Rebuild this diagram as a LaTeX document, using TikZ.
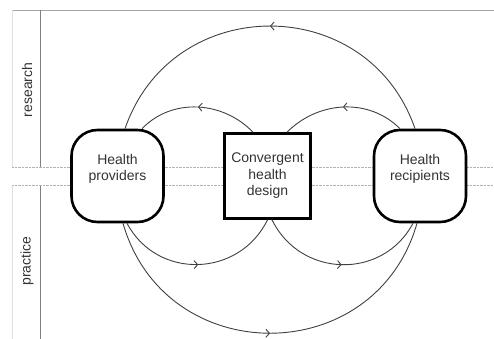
\documentclass[tikz,border=0pt]{standalone}
\usepackage{fontspec}
\setmainfont{Liberation Sans}
\usetikzlibrary{positioning,arrows.meta,decorations.markings}

\begin{document}
\begin{tikzpicture}[x=1pt,y=1pt,
    every node/.style={align=center,text=black!80,font=\fontsize{14}{16.5}\selectfont},
    actor/.style={draw=black,line width=2.6pt,fill=white,rounded corners=26pt,minimum width=92pt,minimum height=92pt,text depth=17pt},
    hub/.style={draw=black,line width=2.6pt,fill=white,minimum width=86pt,minimum height=85pt},
    flow/.style={draw=black!75,line width=0.9pt,postaction={decorate},decoration={markings,mark=at position 0.5 with {\arrow{Straight Barb[length=3.5pt,width=8pt]}}}},
    frame/.style={draw=black!35,line width=0.6pt},
    divider/.style={draw=black!30,line width=0.6pt,dash pattern=on 0.5pt off 0.9pt}]
  \useasboundingbox (0,0) rectangle (494,339);

  % frame and bands
  \draw[frame] (12,329) -- (494,329);
  \draw[frame,black!12] (12,329) -- (12,172);
  \draw[frame,black!12] (12,154) -- (12,0);
  \draw[frame,black!50] (40,329) -- (40,172);
  \draw[frame,black!50] (40,154) -- (40,0);
  \draw[divider] (12,172) -- (494,172);
  \draw[divider] (12,154) -- (494,154);

  \node[rotate=90] (research) at (27,249) {research};
  \node[rotate=90] (practice) at (27,78) {practice};

  % boxes
  \node[hub] (conv) at (267.5,163) {Convergent\\health\\design};
  \node[actor,left of=conv,node distance=150pt] (prov) {Health\\providers};
  \node[actor,right of=conv,node distance=152.5pt] (recip) {Health\\recipients};

  % research arcs
  \draw[flow] ([xshift=-5pt]recip.north) to[out=109,in=71,looseness=1.28] ([xshift=7.5pt]prov.north);
  \draw[flow] ([xshift=-14.5pt]conv.north) to[out=134,in=46] ([xshift=24.5pt]prov.north);
  \draw[flow] ([xshift=-20pt]recip.north) to[out=135,in=45] ([xshift=19.5pt]conv.north);

  % practice arcs
  \draw[flow] ([xshift=9.5pt]prov.south) to[out=-62,in=-116,looseness=1.17] (conv.south);
  \draw[flow] ([xshift=4.5pt]conv.south) to[out=-64,in=-118,looseness=1.17] ([xshift=-7pt]recip.south);
  \draw[flow] ([xshift=5.5pt]prov.south) to[out=-74,in=-106,looseness=1.33] ([xshift=-3pt]recip.south);
\end{tikzpicture}
\end{document}
